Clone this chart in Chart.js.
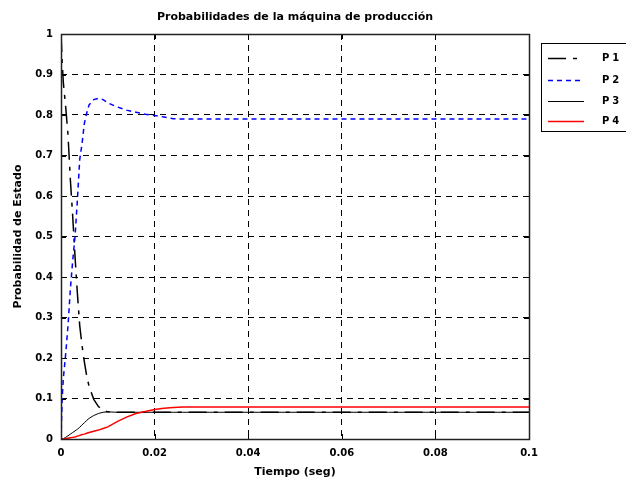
<!DOCTYPE html>
<html><head><meta charset="utf-8">
<script src="https://cdn.jsdelivr.net/npm/chart.js@4.4.0/dist/chart.umd.min.js"></script>
<style>html,body{margin:0;padding:0;background:#fff;}canvas{display:block;}</style>
</head><body>
<canvas id="c" width="626" height="482"></canvas>
<script>
const chartTitle = "Probabilidades de la máquina de producción";
const xTitle = "Tiempo (seg)";
const yTitle = "Probabilidad de Estado";
const seriesNames = ["P1", "P2", "P3", "P4"];

const time = [0, 0.00025, 0.0005, 0.001, 0.0015, 0.002, 0.0025, 0.003, 0.0035, 0.004, 0.0045, 0.005, 0.0055, 0.006, 0.007, 0.008, 0.009, 0.01,
  0.012, 0.014, 0.016, 0.018, 0.02, 0.022, 0.024, 0.026, 0.03, 0.04, 0.05, 0.06, 0.07, 0.08, 0.09, 0.1];
const p1 = [1, 0.93, 0.88, 0.82, 0.75, 0.64, 0.55, 0.45, 0.36, 0.28, 0.23, 0.19, 0.155, 0.13, 0.098, 0.08, 0.071, 0.067,
  0.066, 0.066, 0.066, 0.066, 0.066, 0.066, 0.066, 0.066, 0.066, 0.066, 0.066, 0.066, 0.066, 0.066, 0.066, 0.066];
const p2 = [0, 0.1, 0.15, 0.21, 0.28, 0.37, 0.44, 0.50, 0.59, 0.69, 0.73, 0.78, 0.805, 0.825, 0.838, 0.841, 0.838, 0.83,
  0.82, 0.812, 0.807, 0.802, 0.799, 0.795, 0.791, 0.79, 0.79, 0.79, 0.79, 0.79, 0.79, 0.79, 0.79, 0.79];
const p3 = [0, 0, 0.001, 0.004, 0.008, 0.012, 0.016, 0.02, 0.024, 0.029, 0.035, 0.04, 0.046, 0.051, 0.058, 0.063, 0.066, 0.067,
  0.066, 0.066, 0.066, 0.066, 0.066, 0.066, 0.066, 0.066, 0.066, 0.066, 0.066, 0.066, 0.066, 0.066, 0.066, 0.066];
const p4 = [0, 0, 0.0005, 0.001, 0.002, 0.003, 0.004, 0.005, 0.007, 0.009, 0.011, 0.012, 0.014, 0.016, 0.019, 0.022, 0.026, 0.03,
  0.043, 0.054, 0.063, 0.068, 0.073, 0.076, 0.078, 0.079, 0.079, 0.079, 0.079, 0.079, 0.079, 0.079, 0.079, 0.079];

const xTicks = [0, 0.02, 0.04, 0.06, 0.08, 0.1];
const xTickLabels = ["0", "0.02", "0.04", "0.06", "0.08", "0.1"];
const yTicks = [0, 0.1, 0.2, 0.3, 0.4, 0.5, 0.6, 0.7, 0.8, 0.9, 1];
const yTickLabels = ["0", "0.1", "0.2", "0.3", "0.4", "0.5", "0.6", "0.7", "0.8", "0.9", "1"];

const FONT = "'DejaVu Sans', sans-serif";
const toXY = (vals) => time.map((t, i) => ({ x: t, y: vals[i] }));

const styles = [
  { color: "#000000", width: 1.5, dash: [18, 7, 4, 7] },
  { color: "#0000ff", width: 1.5, dash: [5, 4] },
  { color: "#000000", width: 1, dash: [] },
  { color: "#ff0000", width: 1.5, dash: [] }
];
const seriesVals = [p1, p2, p3, p4];

const datasets = seriesNames.map((name, i) => ({
  label: name,
  data: toXY(seriesVals[i]),
  borderColor: styles[i].color,
  borderWidth: styles[i].width,
  borderDash: styles[i].dash,
  pointRadius: 0,
  tension: 0,
  fill: false,
  order: 4 - i
}));

const decor = {
  id: "decor",
  afterDraw(chart) {
    const ctx = chart.ctx;
    const a = chart.chartArea;
    const xs = chart.scales.x, ys = chart.scales.y;
    ctx.save();
    // inward ticks
    ctx.strokeStyle = "#000";
    ctx.lineWidth = 1;
    ctx.setLineDash([]);
    ctx.beginPath();
    xTicks.forEach(v => {
      const px = Math.round(xs.getPixelForValue(v)) + 0.5;
      ctx.moveTo(px, a.bottom); ctx.lineTo(px, a.bottom - 5);
      ctx.moveTo(px, a.top); ctx.lineTo(px, a.top + 5);
    });
    yTicks.forEach(v => {
      const py = Math.round(ys.getPixelForValue(v)) + 0.5;
      ctx.moveTo(a.left, py); ctx.lineTo(a.left + 5, py);
      ctx.moveTo(a.right, py); ctx.lineTo(a.right - 5, py);
    });
    ctx.stroke();
    // frame
    ctx.lineWidth = 1.5;
    ctx.strokeStyle = "#222";
    ctx.strokeRect(Math.round(a.left) + 0.5, Math.round(a.top) + 0.5, Math.round(a.right - a.left), Math.round(a.bottom - a.top));
    // titles
    ctx.fillStyle = "#000";
    ctx.font = "bold 11px " + FONT;
    ctx.textAlign = "center";
    ctx.textBaseline = "middle";
    ctx.fillText(chartTitle, (a.left + a.right) / 2, 17);
    ctx.fillText(xTitle, (a.left + a.right) / 2, 472);
    ctx.save();
    ctx.translate(18, (a.top + a.bottom) / 2);
    ctx.rotate(-Math.PI / 2);
    ctx.fillText(yTitle, 0, 0);
    ctx.restore();
    // legend
    const lx = 541, ly = 43, lw = 90, lh = 88;
    ctx.fillStyle = "#fff";
    ctx.fillRect(lx, ly, lw, lh);
    ctx.strokeStyle = "#000";
    ctx.lineWidth = 1;
    ctx.strokeRect(lx + 0.5, ly + 0.5, lw, lh);
    const rowsY = [58, 80, 101, 121];
    ctx.font = "bold 10px " + FONT;
    ctx.textAlign = "left";
    ctx.textBaseline = "middle";
    try { ctx.letterSpacing = "3px"; } catch (e) {}
    chart.data.datasets.forEach((ds, i) => {
      const y = rowsY[i] + 0.5;
      ctx.strokeStyle = ds.borderColor;
      ctx.lineWidth = ds.borderWidth;
      ctx.setLineDash(ds.borderDash || []);
      ctx.beginPath();
      ctx.moveTo(548, y); ctx.lineTo(584, y);
      ctx.stroke();
      ctx.setLineDash([]);
      ctx.fillStyle = "#000";
      ctx.fillText(ds.label, 602, rowsY[i]);
    });
    ctx.restore();
  }
};

new Chart(document.getElementById("c"), {
  type: "line",
  data: { datasets },
  options: {
    responsive: false,
    animation: false,
    devicePixelRatio: 1,
    layout: { padding: { top: 34, right: 97, left: 0, bottom: 0 } },
    plugins: { legend: { display: false }, tooltip: { enabled: false }, title: { display: false } },
    scales: {
      x: {
        type: "linear", min: 0, max: 0.1,
        afterBuildTicks: (s) => { s.ticks = xTicks.map(v => ({ value: v })); },
        afterFit: (s) => { s.height = 43; },
        ticks: {
          autoSkip: false, maxRotation: 0, padding: 8, color: "#000",
          font: { family: FONT, weight: "bold", size: 10 },
          callback: (v, i) => xTickLabels[i]
        },
        grid: { color: "#000", lineWidth: 1, drawTicks: false },
        border: { display: false, dash: [6, 5] }
      },
      y: {
        type: "linear", min: 0, max: 1,
        afterBuildTicks: (s) => { s.ticks = yTicks.map(v => ({ value: v })); },
        afterFit: (s) => { s.width = 61; },
        ticks: {
          autoSkip: false, padding: 8, color: "#000",
          font: { family: FONT, weight: "bold", size: 10 },
          callback: (v, i) => yTickLabels[i]
        },
        grid: { color: "#000", lineWidth: 1, drawTicks: false },
        border: { display: false, dash: [6, 5] }
      }
    }
  },
  plugins: [decor]
});
</script>
</body></html>
